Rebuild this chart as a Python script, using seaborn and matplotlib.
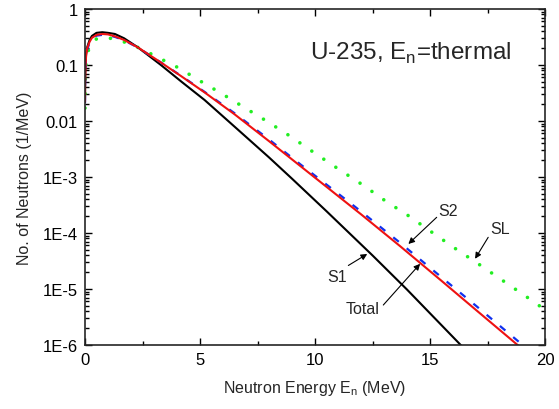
import numpy as np
import pandas as pd
import matplotlib
matplotlib.use("Agg")
import matplotlib.pyplot as plt
import matplotlib.ticker as mticker
import seaborn as sns

# ---------------- data ----------------
E_s1 = [0.001, 0.005, 0.02, 0.05, 0.1, 0.2, 0.3, 0.5, 0.75, 1.0, 1.3, 1.7, 2.3,
        3.3, 4.2, 5.2, 6.5, 8.0, 9.0, 10.5, 12.5, 14.0, 16.5]
N_s1 = [0.024, 0.05, 0.10, 0.16, 0.21, 0.28, 0.33, 0.375, 0.385, 0.375, 0.358, 0.30, 0.2065,
        0.100, 0.0501, 0.0237, 7.94e-3, 2.24e-3, 9.33e-4, 2.45e-4, 3.98e-5, 9.77e-6, 8.51e-7]

E_total = [0.001, 0.005, 0.02, 0.05, 0.1, 0.2, 0.3, 0.5, 0.75, 1.0, 1.3, 1.7, 2.3,
           3.3, 4.2, 5.2, 6.5, 8.0, 9.35, 10.5, 12.0, 13.7, 15.5, 17.0, 19.3]
N_total = [0.022, 0.046, 0.093, 0.15, 0.20, 0.26, 0.305, 0.345, 0.358, 0.352, 0.325, 0.28, 0.206,
           0.111, 0.0624, 0.0324, 0.0132, 4.37e-3, 1.585e-3, 6.68e-4, 2.16e-4, 5.82e-5, 1.40e-5,
           4.22e-6, 6.76e-7]

E_s2 = [0.001, 0.005, 0.02, 0.05, 0.1, 0.2, 0.3, 0.5, 0.75, 1.0, 1.3, 1.7, 2.3,
        3.3, 4.2, 5.2, 6.5, 8.0, 9.35, 10.5, 12.0, 13.7, 15.5, 17.0, 19.3]
N_s2 = [0.021, 0.044, 0.089, 0.143, 0.192, 0.25, 0.295, 0.335, 0.345, 0.34, 0.318, 0.276, 0.205,
        0.111, 0.0631, 0.0331, 0.0138, 4.68e-3, 1.70e-3, 7.33e-4, 2.43e-4, 6.68e-5, 1.62e-5,
        5.01e-6, 8.04e-7]

E_sl = [0.001, 0.005, 0.02, 0.05, 0.09, 0.2, 0.33, 0.55, 0.83, 1.35, 1.85, 2.36, 2.87, 3.37,
        3.88, 4.39, 4.9, 5.94, 6.96, 7.97, 8.99, 10.0, 11.04, 12.06, 13.07, 14.09, 15.1, 16.13,
        17.17, 18.19, 19.2, 20.0]
N_sl = [0.017, 0.035, 0.07, 0.11, 0.147, 0.22, 0.265, 0.30, 0.31, 0.29, 0.245, 0.201, 0.158,
        0.124, 0.098, 0.074, 0.055, 0.0309, 0.0171, 9.55e-3, 5.13e-3, 2.65e-3, 1.37e-3, 7.29e-4,
        3.72e-4, 2.0e-4, 1.02e-4, 5.18e-5, 2.69e-5, 1.39e-5, 7.24e-6, 4.27e-6]

x_ticks = [0, 5, 10, 15, 20]
y_ticks = [1, 0.1, 0.01, 1e-3, 1e-4, 1e-5, 1e-6]
y_tick_labels = ["1", "0.1", "0.01", "1E-3", "1E-4", "1E-5", "1E-6"]

# ---------------- style ----------------
sns.set_style("ticks")
plt.rcParams["font.family"] = ["Liberation Sans", "DejaVu Sans"]
plt.rcParams["axes.linewidth"] = 1.2

fig = plt.figure(figsize=(5.59, 4.10), dpi=100)
ax = fig.add_axes([85 / 559, 1 - 346 / 410, 460 / 559, 336 / 410])

sns.lineplot(x=E_sl, y=N_sl, ax=ax, color="#22ee22", lw=2.6, sort=False,
             linestyle=(0, (0.01, 4.0)), dash_capstyle="round")
sns.lineplot(x=E_s1, y=N_s1, ax=ax, color="black", lw=1.5, sort=False)
sns.lineplot(x=E_s2, y=N_s2, ax=ax, color="#1030ee", lw=1.6, sort=False,
             linestyle=(0, (3.2, 4.6)))
sns.lineplot(x=E_total, y=N_total, ax=ax, color="#ee1111", lw=1.5, sort=False)

ax.set_yscale("log")
ax.set_xlim(0, 20)
ax.set_ylim(1e-6, 1)
ax.yaxis.set_major_locator(mticker.FixedLocator(y_ticks))
ax.yaxis.set_major_formatter(mticker.FixedFormatter(y_tick_labels))
ax.yaxis.set_minor_locator(mticker.LogLocator(base=10, subs=np.arange(2, 10)))
ax.yaxis.set_minor_formatter(mticker.NullFormatter())
ax.set_xticks(x_ticks)
ax.xaxis.set_minor_locator(mticker.MultipleLocator(2.5))

ax.tick_params(which="both", direction="in", top=True, right=True, width=1.0,
               labelsize=12, colors="black")
ax.tick_params(which="major", length=5, pad=5)
ax.tick_params(which="minor", length=3)

ax.set_xlabel(r"Neutron Energy E$_\mathregular{n}$ (MeV)", fontsize=11.5, labelpad=8)
ax.set_ylabel("No. of Neutrons (1/MeV)", fontsize=11.5, labelpad=8)

ax.text(14.17, 0.128, r"U-235, E$_\mathregular{n}$=thermal", fontsize=17.5,
        ha="center", va="baseline")

arrow = dict(arrowstyle="-|>", color="black", lw=0.8, mutation_scale=9,
             shrinkA=0, shrinkB=0)
ax.text(10.94, 1.69e-5, "S1", fontsize=11.5, ha="center", va="center")
ax.annotate("", xy=(12.27, 10 ** -4.375), xytext=(11.45, 10 ** -4.58), arrowprops=arrow)
ax.text(15.8, 10 ** -3.60, "S2", fontsize=11.5, ha="center", va="center")
ax.annotate("", xy=(14.06, 10 ** -4.196), xytext=(15.29, 10 ** -3.72), arrowprops=arrow)
ax.text(18.04, 10 ** -3.916, "SL", fontsize=11.5, ha="center", va="center")
ax.annotate("", xy=(16.96, 10 ** -4.46), xytext=(17.53, 10 ** -4.077), arrowprops=arrow)
ax.text(12.07, 10 ** -5.345, "Total", fontsize=11.5, ha="center", va="center")
ax.annotate("", xy=(14.57, 10 ** -4.55), xytext=(12.97, 10 ** -5.286), arrowprops=arrow)

fig.savefig("out.png", dpi=100)
